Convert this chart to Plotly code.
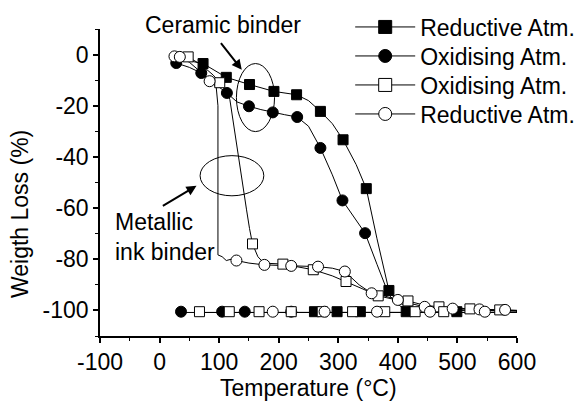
import plotly.graph_objects as go

# ---------------- data ----------------
# Series 1: Reductive Atm. (filled squares)
rs_line_T = [22, 40, 73, 112, 151, 192, 230, 250, 270, 290, 308, 330, 347, 365, 385, 400, 430, 480, 600,
             600, 500, 400, 300, 250]
rs_line_W = [-1.5, -2, -3.5, -8.9, -11.7, -14.4, -15.7, -18, -22.2, -27, -33.3, -43, -52.4, -72, -92.2, -97, -99.2, -99.8, -100.2,
             -100.8, -100.8, -100.8, -100.8, -100.8]
rs_mark_T = [73, 112, 151, 192, 230, 270, 308, 347, 385, 499, 414, 337, 298, 260]
rs_mark_W = [-3.5, -8.9, -11.7, -14.4, -15.7, -22.2, -33.3, -52.4, -92.2, -100.5, -100.5, -100.5, -100.5, -100.5]

# Series 2: Oxidising Atm. (filled circles)
oc_line_T = [20, 28, 50, 70, 90, 113, 130, 150, 170, 190, 210, 231, 250, 270, 290, 307, 325, 345, 365, 385, 405, 440, 600,
             600, 300, 150, 36]
oc_line_W = [-2, -3.3, -5, -7.2, -11, -15, -18.5, -20.2, -21.5, -22.6, -23.5, -24.4, -28, -36.5, -47, -57, -63, -69.8, -82, -94, -98.5, -99.8, -100.2,
             -100.8, -100.8, -100.8, -100.8]
oc_mark_T = [28, 70, 113, 150, 190, 231, 270, 307, 345, 221, 143, 105, 36]
oc_mark_W = [-3.3, -7.2, -15, -20.2, -22.6, -24.4, -36.5, -57, -69.8, -100.5, -100.5, -100.5, -100.5]

# Series 3: Oxidising Atm. (open squares)
os_line_T = [25, 48, 70, 90, 101, 112, 118, 126, 134, 140, 146, 151, 156, 165, 175, 207, 235, 258, 290, 313, 340, 367, 390, 417, 445, 469, 521, 571, 600,
             600, 400, 200, 67]
os_line_W = [0, -0.9, -4, -8, -11, -14, -17.6, -30, -43.7, -53, -60.7, -68, -74, -79, -81.5, -81.9, -83, -84.1, -86.5, -88.7, -91.5, -94.3, -95.5, -96.3, -98, -98.6, -99.4, -99.8, -100,
             -100.8, -100.8, -100.8, -100.8]
os_mark_T = [48, 101, 156, 207, 258, 313, 367, 417, 469, 521, 571, 477, 429, 378, 324, 273, 221, 167, 117, 67]
os_mark_W = [-0.9, -11, -74, -81.9, -84.1, -88.7, -94.3, -96.3, -98.6, -99.4, -99.8,
             -100.5, -100.5, -100.5, -100.5, -100.5, -100.5, -100.5, -100.5, -100.5]

# Series 4: Reductive Atm. (open circles)
rc_line_T = [22, 25, 34, 50, 70, 84, 95, 98, 98, 105, 112, 120, 129, 150, 176, 221, 266, 290, 311, 335, 356, 380, 400, 425, 445, 492, 537, 580, 600,
             600, 400, 190]
rc_line_W = [0, -0.7, -0.9, -3, -7, -10.4, -12.5, -20, -78.3, -79, -80.5, -80, -80.5, -81.5, -82.2, -82.6, -82.9, -83.5, -84.8, -90, -93.3, -94.5, -95.9, -97.5, -98.6, -99.3, -99.6, -99.8, -100,
             -100.8, -100.8, -100.8]
rc_mark_T = [25, 34, 84, 129, 176, 221, 266, 311, 356, 400, 445, 492, 537, 580, 546, 454, 365, 277, 190]
rc_mark_W = [-0.7, -0.9, -10.4, -80.5, -82.2, -82.6, -82.9, -84.8, -93.3, -95.9, -98.6, -99.3, -99.6, -99.8,
             -100.5, -100.5, -100.5, -100.5, -100.5]

legend_names = ["Reductive Atm.", "Oxidising Atm.", "Oxidising Atm.", "Reductive Atm."]

x_ticks = [-100, 0, 100, 200, 300, 400, 500, 600]
y_ticks = [-100, -80, -60, -40, -20, 0]

# ---------------- figure ----------------
FONT = "Liberation Sans, Arial, Helvetica, sans-serif"
FS = 23

series = [
    (rs_line_T, rs_line_W, rs_mark_T, rs_mark_W, "square", "black", 10),
    (oc_line_T, oc_line_W, oc_mark_T, oc_mark_W, "circle", "black", 11),
    (os_line_T, os_line_W, os_mark_T, os_mark_W, "square", "white", 10),
    (rc_line_T, rc_line_W, rc_mark_T, rc_mark_W, "circle", "white", 11),
]

fig = go.Figure()
for (lt, lw, mt, mw, sym, fill, size) in series:
    fig.add_trace(go.Scatter(x=lt, y=lw, mode="lines", line=dict(color="black", width=1),
                             showlegend=False, hoverinfo="skip"))
for (lt, lw, mt, mw, sym, fill, size) in series:
    fig.add_trace(go.Scatter(x=mt, y=mw, mode="markers",
                             marker=dict(symbol=sym, color=fill, size=size,
                                         line=dict(color="black", width=1)),
                             showlegend=False))
legend_ids = ["legend", "legend2", "legend3", "legend4"]
for name, lid, (lt, lw, mt, mw, sym, fill, size) in zip(legend_names, legend_ids, series):
    fig.add_trace(go.Scatter(x=[None], y=[None], mode="lines+markers", name=name, legend=lid,
                             line=dict(color="black", width=1),
                             marker=dict(symbol=sym, color=fill, size=13,
                                         line=dict(color="black", width=1))))

# annotations: ellipses, arrows, labels
fig.add_shape(type="circle", xref="x", yref="y", x0=129, x1=193, y0=-30.1, y1=-3.5,
              line=dict(color="black", width=1))
fig.add_shape(type="circle", xref="x", yref="y", x0=68, x1=175, y0=-55.2, y1=-39.5,
              line=dict(color="black", width=1))

fig.add_annotation(x=138, y=-5.9, ax=101, ay=5.1, axref="x", ayref="y", xref="x", yref="y",
                   text="", showarrow=True, arrowhead=2, arrowsize=1, arrowwidth=2, arrowcolor="black")
fig.add_annotation(x=62, y=-51.3, ax=3, ay=-59.5, axref="x", ayref="y", xref="x", yref="y",
                   text="", showarrow=True, arrowhead=2, arrowsize=1, arrowwidth=2, arrowcolor="black")

fig.add_annotation(x=0.295, y=1.013, xref="paper", yref="paper", text="Ceramic binder", showarrow=False,
                   font=dict(family=FONT, size=FS, color="black"), xanchor="center", yanchor="middle")
fig.add_annotation(x=-79, y=-71.4, xref="x", yref="y", text="Metallic<br>ink binder", showarrow=False,
                   align="left", font=dict(family=FONT, size=FS, color="black"),
                   xanchor="left", yanchor="middle")

# axis titles
fig.add_annotation(x=-0.192, y=0.397, xref="paper", yref="paper", text="Weigth Loss (%)",
                   textangle=-90, showarrow=False, font=dict(family=FONT, size=FS, color="black"),
                   xanchor="center", yanchor="middle")
fig.add_annotation(x=0.5, y=-0.17, xref="paper", yref="paper", text="Temperature (\u00b0C)",
                   showarrow=False, font=dict(family=FONT, size=FS, color="black"),
                   xanchor="center", yanchor="middle")

axis_common = dict(showline=True, linecolor="black", linewidth=1.5, ticks="outside",
                   ticklen=5, tickwidth=1.5, tickcolor="black", showgrid=False, zeroline=False,
                   tickfont=dict(family=FONT, size=FS, color="black"))
fig.update_xaxes(range=[-100, 600], tickvals=x_ticks, ticktext=[str(v) for v in x_ticks],
                 minor=dict(dtick=50, tick0=-100, ticks="outside", ticklen=3, tickwidth=1, tickcolor="black"),
                 **axis_common)
fig.update_yaxes(range=[-110, 10], tickvals=y_ticks, ticktext=[str(v) for v in y_ticks],
                 minor=dict(dtick=10, tick0=0, ticks="outside", ticklen=3, tickwidth=1, tickcolor="black"),
                 **axis_common)

leg_rows_px = [27, 56, 85, 114]
legend_cfg = {}
for lid, row in zip(legend_ids, leg_rows_px):
    legend_cfg[lid] = dict(x=0.60, y=(336 - row) / 307, xanchor="left", yanchor="middle",
                           bgcolor="rgba(0,0,0,0)", borderwidth=0,
                           font=dict(family=FONT, size=FS, color="black"), itemwidth=60)

fig.update_layout(
    width=582, height=406,
    margin=dict(l=100, r=65, t=29, b=70, autoexpand=False),
    paper_bgcolor="white", plot_bgcolor="white",
    font=dict(family=FONT, size=FS, color="black"),
    showlegend=True,
    **legend_cfg,
)

fig.write_html("out.html")
